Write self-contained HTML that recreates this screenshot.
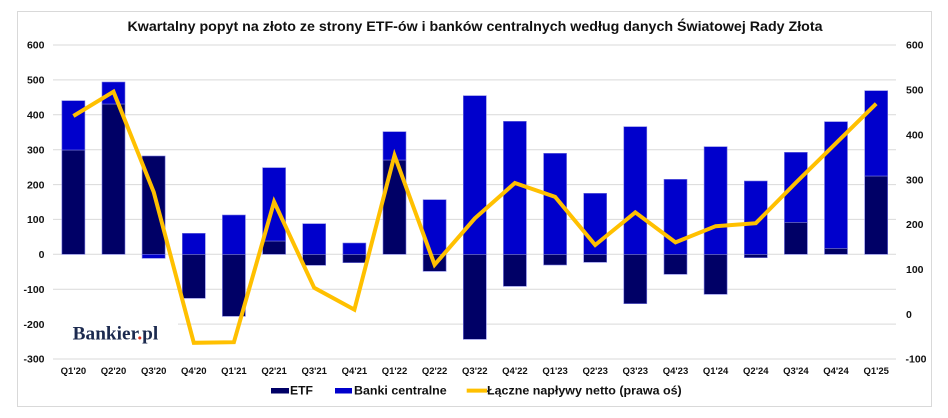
<!DOCTYPE html>
<html><head><meta charset="utf-8"><style>
html,body{margin:0;padding:0;background:#fff;}
svg{display:block;}
text{font-family:"Liberation Sans",Arial,sans-serif;}
</style></head><body>
<svg width="948" height="418" viewBox="0 0 948 418" xmlns="http://www.w3.org/2000/svg">
<rect x="0" y="0" width="948" height="418" fill="#fff"/>
<rect x="17.5" y="11.5" width="914" height="395" fill="#fff" stroke="#d9d9d9" stroke-width="1"/>
<text x="475" y="31" text-anchor="middle" font-size="14" font-weight="bold" fill="#111" textLength="695" lengthAdjust="spacingAndGlyphs">Kwartalny popyt na złoto ze strony ETF-ów i banków centralnych według danych Światowej Rady Złota</text>
<g stroke="#d9d9d9" stroke-width="1">
<line x1="53" x2="896" y1="45" y2="45"/>
<line x1="53" x2="896" y1="79.9" y2="79.9"/>
<line x1="53" x2="896" y1="114.8" y2="114.8"/>
<line x1="53" x2="896" y1="149.7" y2="149.7"/>
<line x1="53" x2="896" y1="184.6" y2="184.6"/>
<line x1="53" x2="896" y1="219.4" y2="219.4"/>
<line x1="53" x2="896" y1="254.3" y2="254.3"/>
<line x1="53" x2="896" y1="289.2" y2="289.2"/>
<line x1="53" x2="896" y1="324.1" y2="324.1"/>
<line x1="53" x2="896" y1="359" y2="359"/>
</g>
<g font-size="10.5" font-weight="bold" fill="#111" text-anchor="end">
<text x="44.5" y="48.7">600</text>
<text x="44.5" y="83.6">500</text>
<text x="44.5" y="118.5">400</text>
<text x="44.5" y="153.4">300</text>
<text x="44.5" y="188.3">200</text>
<text x="44.5" y="223.1">100</text>
<text x="44.5" y="258">0</text>
<text x="44.5" y="292.9">-100</text>
<text x="44.5" y="327.8">-200</text>
<text x="44.5" y="362.7">-300</text>
</g>
<g font-size="10.5" font-weight="bold" fill="#111">
<text x="906" y="48.7">600</text>
<text x="906" y="93.6">500</text>
<text x="906" y="138.4">400</text>
<text x="906" y="183.3">300</text>
<text x="906" y="228.1">200</text>
<text x="906" y="273">100</text>
<text x="906" y="317.8">0</text>
<text x="905.5" y="362.7">-100</text>
</g>
<g stroke="#7a7ae0" stroke-width="0.6">
<g fill="#000066">
<rect x="61.9" y="150" width="23" height="104.3"/>
<rect x="102" y="104" width="23" height="150.3"/>
<rect x="142.1" y="156" width="23" height="98.3"/>
<rect x="182.3" y="254.3" width="23" height="44"/>
<rect x="222.4" y="254.3" width="23" height="62"/>
<rect x="262.6" y="241" width="23" height="13.3"/>
<rect x="302.7" y="254.3" width="23" height="11"/>
<rect x="342.9" y="254.3" width="23" height="8.4"/>
<rect x="383" y="160" width="23" height="94.3"/>
<rect x="423.1" y="254.3" width="23" height="17"/>
<rect x="463.3" y="254.3" width="23" height="85"/>
<rect x="503.4" y="254.3" width="23" height="32"/>
<rect x="543.6" y="254.3" width="23" height="10.7"/>
<rect x="583.7" y="254.3" width="23" height="8"/>
<rect x="623.8" y="254.3" width="23" height="49.4"/>
<rect x="664" y="254.3" width="23" height="20"/>
<rect x="704.1" y="254.3" width="23" height="40"/>
<rect x="744.3" y="254.3" width="23" height="3.4"/>
<rect x="784.4" y="222.3" width="23" height="32"/>
<rect x="824.5" y="248.3" width="23" height="6"/>
<rect x="864.7" y="176" width="23" height="78.3"/>
</g>
<g fill="#0000cc">
<rect x="61.9" y="100.7" width="23" height="49.3"/>
<rect x="102" y="82" width="23" height="22"/>
<rect x="142.1" y="254.3" width="23" height="4"/>
<rect x="182.3" y="233.3" width="23" height="21"/>
<rect x="222.4" y="215" width="23" height="39.3"/>
<rect x="262.6" y="167.7" width="23" height="73.3"/>
<rect x="302.7" y="223.7" width="23" height="30.6"/>
<rect x="342.9" y="243" width="23" height="11.3"/>
<rect x="383" y="131.7" width="23" height="28.3"/>
<rect x="423.1" y="199.7" width="23" height="54.6"/>
<rect x="463.3" y="95.7" width="23" height="158.6"/>
<rect x="503.4" y="121.3" width="23" height="133"/>
<rect x="543.6" y="153.3" width="23" height="101"/>
<rect x="583.7" y="193.3" width="23" height="61"/>
<rect x="623.8" y="126.7" width="23" height="127.6"/>
<rect x="664" y="179.3" width="23" height="75"/>
<rect x="704.1" y="146.7" width="23" height="107.6"/>
<rect x="744.3" y="181" width="23" height="73.3"/>
<rect x="784.4" y="152.3" width="23" height="70"/>
<rect x="824.5" y="121.7" width="23" height="126.6"/>
<rect x="864.7" y="90.7" width="23" height="85.3"/>
</g>
</g>
<rect x="53" y="311" width="125" height="34" fill="#fff"/>
<text x="72.7" y="339.3" style="font-family:'Liberation Serif','DejaVu Serif',serif;" font-size="19" font-weight="bold" fill="#1c2a4f" textLength="85.6" lengthAdjust="spacingAndGlyphs">Bankier<tspan fill="#e0301e">.</tspan>pl</text>
<polyline fill="none" stroke="#ffc000" stroke-width="4" stroke-linejoin="miter" stroke-miterlimit="4"
points="73.4,116 113.5,91.7 153.7,192 193.8,342.8 233.9,342.2 274.1,201.8 314.2,287.8 354.4,309.6 394.5,155.4 434.6,264.7 474.8,218.4 514.9,183 555.1,196.8 595.2,245 635.3,212.4 675.5,242.3 715.6,226.2 755.8,223.2 795.9,182.6 836,143.2 876.2,103.7"/>
<g font-size="9.5" font-weight="bold" fill="#111" text-anchor="middle">
<text x="73.4" y="374">Q1'20</text>
<text x="113.5" y="374">Q2'20</text>
<text x="153.7" y="374">Q3'20</text>
<text x="193.8" y="374">Q4'20</text>
<text x="233.9" y="374">Q1'21</text>
<text x="274.1" y="374">Q2'21</text>
<text x="314.2" y="374">Q3'21</text>
<text x="354.4" y="374">Q4'21</text>
<text x="394.5" y="374">Q1'22</text>
<text x="434.6" y="374">Q2'22</text>
<text x="474.8" y="374">Q3'22</text>
<text x="514.9" y="374">Q4'22</text>
<text x="555.1" y="374">Q1'23</text>
<text x="595.2" y="374">Q2'23</text>
<text x="635.3" y="374">Q3'23</text>
<text x="675.5" y="374">Q4'23</text>
<text x="715.6" y="374">Q1'24</text>
<text x="755.8" y="374">Q2'24</text>
<text x="795.9" y="374">Q3'24</text>
<text x="836" y="374">Q4'24</text>
<text x="876.2" y="374">Q1'25</text>
</g>
<rect x="271" y="388" width="18" height="5.5" fill="#000066"/>
<text x="290" y="394.5" font-size="12" font-weight="bold" fill="#111" textLength="23" lengthAdjust="spacingAndGlyphs">ETF</text>
<rect x="335" y="388" width="17" height="5.5" fill="#0000cc"/>
<text x="354" y="394.5" font-size="12" font-weight="bold" fill="#111" textLength="92.7" lengthAdjust="spacingAndGlyphs">Banki centralne</text>
<line x1="466.7" x2="487" y1="390.6" y2="390.6" stroke="#ffc000" stroke-width="4"/>
<text x="487" y="394.5" font-size="12" font-weight="bold" fill="#111" textLength="194.7" lengthAdjust="spacingAndGlyphs">Łączne napływy netto (prawa oś)</text>
</svg>
</body></html>
